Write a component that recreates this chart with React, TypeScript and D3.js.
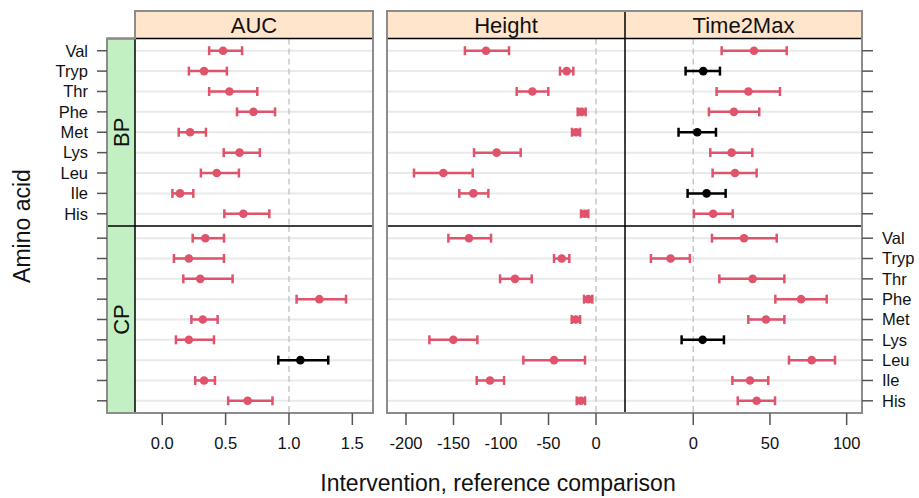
import React from "react";
import * as d3 from "d3";

// Categories bottom -> top
const aminoAcids = ["His", "Ile", "Leu", "Lys", "Met", "Phe", "Thr", "Tryp", "Val"];
const groups = ["BP", "CP"];
const measures = ["AUC", "Height", "Time2Max"];
const references = [1, 0, 0];

const aucTicks = [0, 0.5, 1, 1.5];
const aucTickLabels = ["0.0", "0.5", "1.0", "1.5"];
const heightTicks = [-200, -150, -100, -50, 0];
const heightTickLabels = ["-200", "-150", "-100", "-50", "0"];
const t2mTicks = [0, 50, 100];
const t2mTickLabels = ["0", "50", "100"];

// AUC  (His, Ile, Leu, Lys, Met, Phe, Thr, Tryp, Val)
const aucBPEst = [0.64, 0.14, 0.43, 0.61, 0.22, 0.72, 0.53, 0.33, 0.48];
const aucBPLo = [0.49, 0.08, 0.305, 0.485, 0.13, 0.59, 0.37, 0.21, 0.37];
const aucBPHi = [0.845, 0.245, 0.605, 0.77, 0.345, 0.89, 0.75, 0.51, 0.63];
const aucCPEst = [0.674, 0.33, 1.09, 0.21, 0.32, 1.24, 0.3, 0.21, 0.34];
const aucCPLo = [0.52, 0.26, 0.916, 0.108, 0.23, 1.06, 0.166, 0.092, 0.24];
const aucCPHi = [0.87, 0.416, 1.31, 0.408, 0.437, 1.45, 0.555, 0.487, 0.487];

// Height
const hBPEst = [-11.9, -129.1, -160.7, -104.6, -21, -15.4, -67, -30.9, -115.8];
const hBPLo = [-15.8, -143.9, -191.6, -128.4, -25.3, -19.3, -83.5, -37.9, -138];
const hBPHi = [-8.1, -113.3, -129.8, -79.3, -16.8, -10.9, -50.2, -23.9, -91.6];
const hCPEst = [-16.1, -111.6, -44.2, -150.2, -21.4, -8.1, -85.3, -36.1, -133.7];
const hCPLo = [-20.3, -125.6, -76.5, -175.4, -25.6, -12.6, -101, -44.2, -155.4];
const hCPHi = [-11.6, -96.8, -11.6, -124.9, -16.8, -3.9, -67.7, -28.1, -110.5];

// Time2Max
const tBPEst = [13, 8.7, 27.2, 25, 2.6, 26.5, 35.9, 6.5, 39.6];
const tBPLo = [0.4, -3.7, 12.6, 11.1, -9.6, 10.2, 15.2, -5, 18.5];
const tBPHi = [25.7, 21.1, 41.3, 38.5, 14.8, 43, 56.5, 17.4, 60.9];
const tCPEst = [41.3, 37, 77.2, 6.1, 47.4, 70.3, 38.7, -14.8, 33.1];
const tCPLo = [29, 25.5, 62.4, -7.6, 35.9, 53.5, 17, -27.6, 12.2];
const tCPHi = [53.3, 48.9, 92.4, 20, 59.4, 87, 59.4, -2.2, 54.4];

const FONT = "'Liberation Sans', Arial, Helvetica, sans-serif";
const RED = "#DF536B";
const GRAY = "#8c8c8c";

export default function App() {
  const W = 919;
  const H = 498;
  const panelX = [
    [135, 373],
    [387, 625],
    [625, 862],
  ];
  const rowY = [
    [38.5, 226],
    [226, 413],
  ];
  const stripTop = 11;
  const greenX = [107, 135];
  const domains = [
    [-0.215, 1.663],
    [-220, 30.5],
    [-44.5, 110],
  ];
  const ticks = [aucTicks, heightTicks, t2mTicks];
  const tickLabels = [aucTickLabels, heightTickLabels, t2mTickLabels];
  const data = [
    [
      [aucBPEst, aucBPLo, aucBPHi],
      [aucCPEst, aucCPLo, aucCPHi],
    ],
    [
      [hBPEst, hBPLo, hBPHi],
      [hCPEst, hCPLo, hCPHi],
    ],
    [
      [tBPEst, tBPLo, tBPHi],
      [tCPEst, tCPLo, tCPHi],
    ],
  ];

  const xScales = panelX.map((px, i) =>
    d3.scaleLinear().domain(domains[i]).range(px)
  );
  const yScales = rowY.map((ry) =>
    d3.scaleLinear().domain([0.4, aminoAcids.length + 0.6]).range([ry[1], ry[0]])
  );

  const panels: React.ReactNode[] = [];
  measures.forEach((m, mi) => {
    const xs = xScales[mi];
    groups.forEach((g, gi) => {
      const ys = yScales[gi];
      const [est, lo, hi] = data[mi][gi];
      const [x0, x1] = panelX[mi];
      panels.push(
        <g key={`p-${mi}-${gi}`}>
          {aminoAcids.map((a, i) => (
            <line
              key={`g-${i}`}
              x1={x0}
              x2={x1}
              y1={ys(i + 1)}
              y2={ys(i + 1)}
              stroke="#e9e9e9"
              strokeWidth={2}
            />
          ))}
          <line
            x1={xs(references[mi])}
            x2={xs(references[mi])}
            y1={rowY[gi][0]}
            y2={rowY[gi][1]}
            stroke="#c8c8c8"
            strokeWidth={1.5}
            strokeDasharray="6,4"
          />
          {aminoAcids.map((a, i) => {
            const crosses = lo[i] <= references[mi] && hi[i] >= references[mi];
            const col = crosses ? "#000000" : RED;
            const y = ys(i + 1);
            return (
              <g key={`e-${i}`} stroke={col} fill={col}>
                <line x1={xs(lo[i])} x2={xs(hi[i])} y1={y} y2={y} strokeWidth={2.5} />
                <line x1={xs(lo[i])} x2={xs(lo[i])} y1={y - 4.5} y2={y + 4.5} strokeWidth={2.5} />
                <line x1={xs(hi[i])} x2={xs(hi[i])} y1={y - 4.5} y2={y + 4.5} strokeWidth={2.5} />
                <circle cx={xs(est[i])} cy={y} r={4.3} stroke="none" />
              </g>
            );
          })}
        </g>
      );
    });
  });

  // axes
  const axisEls: React.ReactNode[] = [];
  groups.forEach((g, gi) => {
    const ys = yScales[gi];
    aminoAcids.forEach((a, i) => {
      const y = ys(i + 1);
      axisEls.push(
        <line key={`lt-${gi}-${i}`} x1={97} x2={greenX[0]} y1={y} y2={y} stroke="#555" strokeWidth={1.5} />
      );
      axisEls.push(
        <line key={`rt-${gi}-${i}`} x1={862} x2={873} y1={y} y2={y} stroke="#555" strokeWidth={1.5} />
      );
      if (gi === 0) {
        axisEls.push(
          <text key={`ll-${i}`} x={88} y={y} dy="0.35em" textAnchor="end" fontSize={16.5} fill="#111">
            {a}
          </text>
        );
      } else {
        axisEls.push(
          <text key={`rl-${i}`} x={882} y={y} dy="0.35em" textAnchor="start" fontSize={16.5} fill="#111">
            {a}
          </text>
        );
      }
    });
  });
  measures.forEach((m, mi) => {
    const xs = xScales[mi];
    ticks[mi].forEach((t, ti) => {
      axisEls.push(
        <line key={`bt-${mi}-${ti}`} x1={xs(t)} x2={xs(t)} y1={413} y2={425} stroke="#555" strokeWidth={1.5} />
      );
      axisEls.push(
        <text key={`bl-${mi}-${ti}`} x={xs(t)} y={449} textAnchor="middle" fontSize={16.5} fill="#111">
          {tickLabels[mi][ti]}
        </text>
      );
    });
  });

  return (
    <svg width={W} height={H} style={{ position: "absolute", left: 0, top: 0, fontFamily: FONT }}>
      <rect width={W} height={H} fill="#fff" />
      {/* strips */}
      {measures.map((m, mi) => (
        <g key={`s-${mi}`}>
          <rect
            x={panelX[mi][0]}
            y={stripTop}
            width={panelX[mi][1] - panelX[mi][0]}
            height={rowY[0][0] - stripTop}
            fill="#FFE5CC"
          />
          <text
            x={(panelX[mi][0] + panelX[mi][1]) / 2}
            y={(stripTop + rowY[0][0]) / 2}
            dy="0.36em"
            textAnchor="middle"
            fontSize={22}
            fill="#111"
          >
            {m}
          </text>
        </g>
      ))}
      {groups.map((g, gi) => (
        <g key={`gs-${gi}`}>
          <rect
            x={greenX[0]}
            y={rowY[gi][0]}
            width={greenX[1] - greenX[0]}
            height={rowY[gi][1] - rowY[gi][0]}
            fill="#C2F0C2"
          />
          <text
            transform={`translate(${(greenX[0] + greenX[1]) / 2},${(rowY[gi][0] + rowY[gi][1]) / 2}) rotate(-90)`}
            dy="0.36em"
            textAnchor="middle"
            fontSize={22}
            fill="#111"
          >
            {g}
          </text>
        </g>
      ))}
      {panels}
      {/* internal black lines */}
      <g stroke="#000" strokeWidth={1.5} fill="none">
        <line x1={greenX[0]} x2={373} y1={rowY[0][0]} y2={rowY[0][0]} />
        <line x1={387} x2={862} y1={rowY[0][0]} y2={rowY[0][0]} />
        <line x1={greenX[0]} x2={373} y1={226} y2={226} />
        <line x1={387} x2={862} y1={226} y2={226} />
        <line x1={135} x2={135} y1={rowY[0][0]} y2={413} />
        <line x1={625} x2={625} y1={stripTop} y2={413} />
      </g>
      {/* outer gray frame */}
      <g stroke={GRAY} strokeWidth={2} fill="none">
        <path d={`M${greenX[0]},413 V${rowY[0][0]} H135 V${stripTop} H373 V413 Z`} />
        <rect x={387} y={stripTop} width={862 - 387} height={413 - stripTop} />
      </g>
      {axisEls}
      <text x={498} y={491} textAnchor="middle" fontSize={23} fill="#111">
        Intervention, reference comparison
      </text>
      <text
        transform={`translate(30,226) rotate(-90)`}
        textAnchor="middle"
        fontSize={23}
        fill="#111"
      >
        Amino acid
      </text>
    </svg>
  );
}
